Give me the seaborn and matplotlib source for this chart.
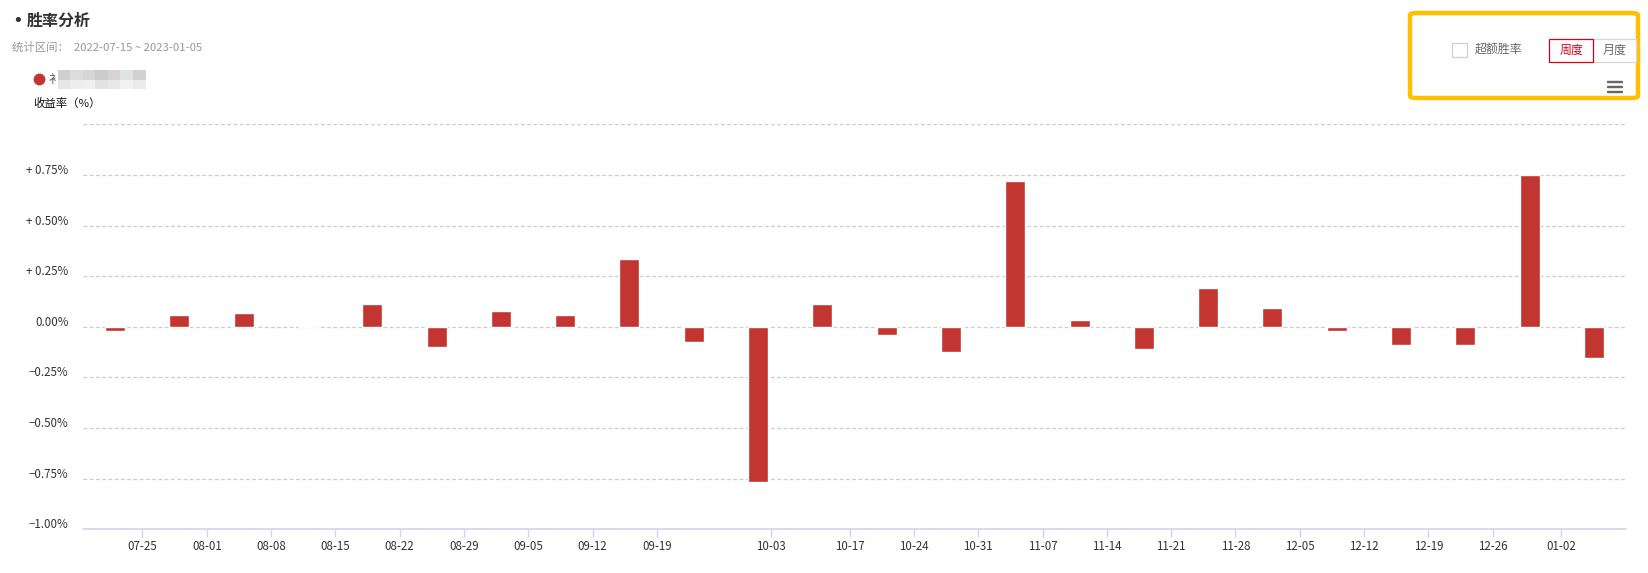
import matplotlib
matplotlib.use("Agg")
import matplotlib.pyplot as plt
import matplotlib.patches as mpatches
from matplotlib.lines import Line2D
from matplotlib.transforms import ScaledTranslation
import seaborn as sns
import pandas as pd

# ---------------- data ----------------
week_ends = ["07-22", "07-29", "08-05", "08-12", "08-19", "08-26", "09-02", "09-09",
             "09-16", "09-23", "09-30", "10-14", "10-21", "10-28", "11-04", "11-11",
             "11-18", "11-25", "12-02", "12-09", "12-16", "12-23", "12-30", "01-06"]
returns = [-0.023, 0.056, 0.066, 0.0, 0.115, -0.102, 0.076, 0.056,
           0.333, -0.073, -0.767, 0.115, -0.041, -0.122, 0.718, 0.036,
           -0.112, 0.194, 0.095, -0.023, -0.092, -0.092, 0.752, -0.152]
tick_labels = ["07-25", "08-01", "08-08", "08-15", "08-22", "08-29", "09-05", "09-12",
               "09-19", "10-03", "10-17", "10-24", "10-31", "11-07", "11-14", "11-21",
               "11-28", "12-05", "12-12", "12-19", "12-26", "01-02"]
y_ticks = [-1.0, -0.75, -0.5, -0.25, 0.0, 0.25, 0.5, 0.75, 1.0]

title = "胜率分析"
subtitle = "统计区间：  2022-07-15 ~ 2023-01-05"
ylabel = "收益率（%）"

# ---------------- style ----------------
sns.set_theme(style="white")
plt.rcParams["font.family"] = ["Noto Sans CJK SC", "DejaVu Sans"]
plt.rcParams["axes.unicode_minus"] = True

W, H, DPI = 1649, 573, 100
fig = plt.figure(figsize=(W / DPI, H / DPI), dpi=DPI)
fig.patch.set_facecolor("white")

ax_l, ax_r, ax_t, ax_b = 83, 1626, 124.3, 529.3
ax = fig.add_axes([ax_l / W, 1 - ax_b / H, (ax_r - ax_l) / W, (ax_b - ax_t) / H])

df = pd.DataFrame({"week": week_ends, "ret": returns})
sns.barplot(data=df, x="week", y="ret", order=week_ends, color="#c23531",
            saturation=1, width=0.311, ax=ax, zorder=3)

ax.set_xlim(-0.5, len(week_ends) - 0.5)
ax.set_ylim(-1, 1)

# tick positions (layout): offsets from bar centers
tick_pos = [i + 0.425 for i in range(9)] + [10.207] + [i + 0.425 for i in range(11, 22)] + [22.487]
ax.set_xticks(tick_pos)
ax.set_xticklabels(tick_labels)

def ylab(v):
    if abs(v - 1.0) < 1e-9:
        return ""
    if v > 1e-9:
        return "+ %.2f%%" % v
    if v < -1e-9:
        return "\u2212%.2f%%" % abs(v)
    return "0.00%"

ax.set_yticks(y_ticks)
ax.set_yticklabels([ylab(v) for v in y_ticks])

ax.set_xlabel("")
ax.set_ylabel("")
for s in ["top", "right", "left"]:
    ax.spines[s].set_visible(False)
ax.spines["bottom"].set_color("#ccd6eb")
ax.spines["bottom"].set_linewidth(1.2)
ax.spines["bottom"].set_zorder(4)

ax.grid(axis="y", color="#cccccc", linestyle=(0, (3, 2)), linewidth=0.9, zorder=0)
ax.grid(axis="x", visible=False)
ax.tick_params(axis="x", length=6, width=1, color="#ccd6eb", pad=2,
               labelsize=8.3, labelcolor="#333333", direction="out", bottom=True)
ax.tick_params(axis="y", length=0, pad=10.5, labelsize=8.3, labelcolor="#333333")
for lab in ax.get_yticklabels():
    lab.set_transform(lab.get_transform() + ScaledTranslation(0, 6 / DPI, fig.dpi_scale_trans))

# ---------------- header texts ----------------
def px(x, y):
    return x / W, 1 - y / H

fig.text(*px(12, 21), "\u2022", fontsize=13, color="#333333", va="center", ha="left",
         family=["DejaVu Sans"])
fig.text(*px(27, 21), title, fontsize=11.5, fontweight="bold", color="#333333",
         va="center", ha="left")
fig.text(*px(12, 47), subtitle, fontsize=8.2, color="#999999", va="center", ha="left")

# legend marker + blurred name (mosaic)
lx, ly = px(39, 79)
fig.add_artist(Line2D([lx], [ly], transform=fig.transFigure, marker="o", markersize=8.5,
                      markerfacecolor="#c23531", markeredgecolor="none", linestyle="none"))
fig.text(*px(49, 79), "衤", fontsize=8.3, color="#555555", va="center", ha="left")
mosaic = [["#cfcfcf", "#dcdcdc", "#d6d6d6", "#cccccc", "#d4d4d4", "#e0e3e6", "#d2d2d2"],
          ["#e6e6e6", "#ededed", "#f0f0f0", "#e2e2e2", "#e8e8e8", "#f2f2f2", "#ebebeb"]]
cw, ch = 12.5, 9.5
for r, row in enumerate(mosaic):
    for c, col in enumerate(row):
        x0, y0 = 58 + c * cw, 70 + r * ch
        fig.patches.append(mpatches.Rectangle(px(x0, y0 + ch), cw / W, ch / H,
                                              transform=fig.transFigure,
                                              facecolor=col, edgecolor="none"))
fig.text(*px(33, 103), ylabel, fontsize=8.2, color="#111111", va="center", ha="left")

# ---------------- top-right control box ----------------
box = mpatches.FancyBboxPatch(px(1410, 98), (1638 - 1410) / W, (98 - 13) / H,
                              boxstyle="round,pad=0,rounding_size=0.004",
                              transform=fig.transFigure, facecolor="white",
                              edgecolor="#ffc000", linewidth=3.2)
fig.patches.append(box)
fig.patches.append(mpatches.Rectangle(px(1452, 57), 15 / W, 14 / H, transform=fig.transFigure,
                                      facecolor="white", edgecolor="#d0d0d0", linewidth=0.9))
fig.text(*px(1475, 50), "超额胜率", fontsize=8.6, color="#666666", va="center", ha="left")
fig.patches.append(mpatches.Rectangle(px(1593, 62), 43 / W, 23 / H, transform=fig.transFigure,
                                      facecolor="white", edgecolor="#d6d6d6", linewidth=0.9))
fig.patches.append(mpatches.Rectangle(px(1549, 62), 44 / W, 23 / H, transform=fig.transFigure,
                                      facecolor="white", edgecolor="#d9001b", linewidth=0.9))
fig.text(*px(1571, 50), "周度", fontsize=8.6, color="#d9001b", va="center", ha="center")
fig.text(*px(1614.5, 50), "月度", fontsize=8.6, color="#666666", va="center", ha="center")
for yy in (82, 87, 92):
    fig.patches.append(mpatches.FancyBboxPatch(px(1607, yy + 1.2), 16 / W, 2.4 / H,
                                               boxstyle="round,pad=0,rounding_size=0.001",
                                               transform=fig.transFigure,
                                               facecolor="#666666", edgecolor="none"))

fig.savefig("out.png", dpi=DPI, facecolor="white")
